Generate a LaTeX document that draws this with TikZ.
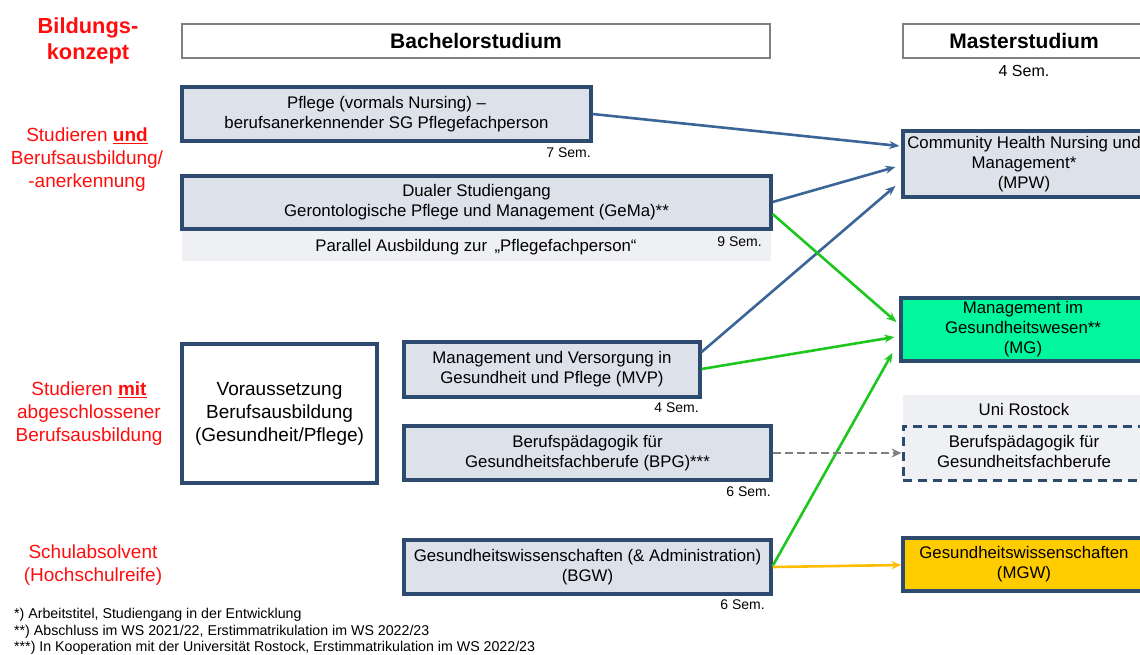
\documentclass[tikz,border=0pt]{standalone}
\usepackage{fontspec}
\setmainfont{Liberation Sans}
\usetikzlibrary{arrows.meta}
\definecolor{navy}{HTML}{2E4A6E}
\definecolor{boxfill}{HTML}{DDE2EA}
\definecolor{lightfill}{HTML}{EEF0F3}
\definecolor{lineblue}{HTML}{3A6596}
\definecolor{lgreen}{HTML}{1DC71D}
\definecolor{mint}{HTML}{00F79B}
\definecolor{gold}{HTML}{FFCC00}
\definecolor{orangeline}{HTML}{FFBE00}
\definecolor{redtext}{HTML}{FF0D0D}
\tikzset{
  x=1pt, y=-1pt,
  prog/.style={draw=navy, line width=3.2pt, fill=boxfill, inner sep=0pt, align=center, font=\fontsize{16.8}{20}\selectfont},
  head/.style={draw=gray, line width=1.2pt, fill=white, inner sep=0pt, align=center, font=\fontsize{21}{24}\selectfont\bfseries},
  sem/.style={font=\fontsize{14}{16}\selectfont, inner sep=0pt},
  redlab/.style={text=redtext, align=center, font=\fontsize{19}{23}\selectfont, inner sep=0pt},
  foot/.style={font=\fontsize{14.2}{16}\selectfont, inner sep=0pt, anchor=west},
  arr/.style={line width=2.6pt, -{Stealth[length=10pt,width=8pt]}},
}
\begin{document}
\begin{tikzpicture}
\useasboundingbox (0,0) rectangle (1140,654);
% headers
\node[head, minimum width=588, minimum height=34] (bach) at (476,41) {Bachelorstudium};
\node[head, minimum width=260, minimum height=34] (mast) at (1033,41) {\hspace*{-18pt}Masterstudium};
\node[sem, font=\fontsize{16}{18}\selectfont] (m4) at (1024,71) {4 Sem.};
% left red labels
\node[redlab, font=\fontsize{21.8}{26}\selectfont\bfseries] (bk) at (88,41) {Bildungs-\\konzept};
\node[redlab] (l1) at (87,160) {Studieren \underline{\textbf{und}}\\Berufsausbildung/\\-anerkennung};
\node[redlab] (l2) at (89,414) {Studieren \underline{\textbf{mit}}\\abgeschlossener\\Berufsausbildung};
\node[redlab] (l3) at (93,565) {Schulabsolvent\\(Hochschulreife)};
% bachelor programs
\node[prog, minimum width=409, minimum height=54] (pfl) at (386.5,114) {Pflege (vormals Nursing) --\\berufsanerkennender SG Pflegefachperson};
\node[sem, anchor=east] (s7) at (591,153) {7 Sem.};
\node[fill=lightfill, minimum width=589, minimum height=32, inner sep=0pt] (par) at (476.5,245) {};
\node[font=\fontsize{16.8}{18}\selectfont, inner sep=0pt] (partx) at (476,247) {Parallel Ausbildung zur \,„Pflegefachperson“};
\node[sem, anchor=east] (s9) at (762,242) {9 Sem.};
\node[prog, minimum width=589, minimum height=53] (gema) at (476.5,202.5) {Dualer Studiengang\\Gerontologische Pflege und Management (GeMa)**};
\node[draw=navy, line width=3.2pt, fill=white, minimum width=195, minimum height=139, inner sep=0pt, align=center, font=\fontsize{19}{23}\selectfont] (vor) at (279.5,413.5) {Voraussetzung\\Berufsausbildung\\(Gesundheit/Pflege)};
\node[prog, minimum width=296, minimum height=55] (mvp) at (552,369.5) {Management und Versorgung in\\Gesundheit und Pflege (MVP)};
\node[sem, anchor=east] (s4) at (699,408) {4 Sem.};
\node[prog, minimum width=367, minimum height=54] (bpg) at (587.5,453) {Berufspädagogik für\\Gesundheitsfachberufe (BPG)***};
\node[sem, anchor=east] (s6a) at (771,492) {6 Sem.};
\node[prog, minimum width=367, minimum height=54] (bgw) at (587.5,567) {Gesundheitswissenschaften (\& Administration)\\(BGW)};
\node[sem, anchor=east] (s6b) at (765,605) {6 Sem.};
% master programs
\node[prog, minimum width=260, minimum height=66] (chn) at (1033,164) {\hspace*{-18pt}\begin{tabular}{@{}c@{}}Community Health Nursing und\\Management*\\(MPW)\end{tabular}};
\node[prog, fill=mint, minimum width=262, minimum height=63] (mg) at (1032,329.5) {\hspace*{-18pt}\begin{tabular}{@{}c@{}}Management im\\Gesundheitswesen**\\(MG)\end{tabular}};
\node[fill=lightfill, minimum width=260, minimum height=31, inner sep=0pt] (uni) at (1033,410) {};
\node[font=\fontsize{16.8}{18}\selectfont, inner sep=0pt] (unitx) at (1024,409) {Uni Rostock};
\node[draw=navy, line width=3pt, dash pattern=on 9pt off 6pt, fill=lightfill, minimum width=260, minimum height=54, inner sep=0pt, align=center, font=\fontsize{16.8}{20}\selectfont] (bpgm) at (1033,453) {\hspace*{-18pt}\begin{tabular}{@{}c@{}}Berufspädagogik für\\Gesundheitsfachberufe\end{tabular}};
\node[prog, fill=gold, minimum width=260, minimum height=53] (mgw) at (1033,564.5) {\hspace*{-18pt}\begin{tabular}{@{}c@{}}Gesundheitswissenschaften\\(MGW)\end{tabular}};
% footnotes
\node[foot] (f1) at (14,615) {*) Arbeitstitel, Studiengang in der Entwicklung};
\node[foot] (f2) at (14,632) {**) Abschluss im WS 2021/22, Erstimmatrikulation im WS 2022/23};
\node[foot] (f3) at (14,648) {***) In Kooperation mit der Universität Rostock, Erstimmatrikulation im WS 2022/23};
% connectors
\draw[arr, lineblue] (pfl.east |- 0,114) -- ([xshift=-2pt]chn.west |- 0,146);
\draw[arr, lineblue] (gema.east |- 0,202) -- ([xshift=-6pt]chn.west |- 0,167);
\draw[arr, lineblue] (mvp.east |- 0,352) -- ([xshift=-6pt]chn.west |- 0,186);
\draw[arr, lgreen] (gema.east |- 0,214) -- ([xshift=-3pt]mg.west |- 0,322);
\draw[arr, lgreen] (mvp.east |- 0,369) -- ([xshift=-5pt]mg.west |- 0,337);
\draw[arr, lgreen] (bgw.east |- 0,566) -- ([xshift=-7pt]mg.west |- 0,353);
\draw[line width=2.8pt, gray, dash pattern=on 8pt off 4pt, -{Stealth[length=10pt,width=9pt]}] (bpg.east) -- (bpgm.west);
\draw[arr, orangeline] (bgw.east |- 0,567) -- (mgw.west |- 0,565);
\end{tikzpicture}
\end{document}
